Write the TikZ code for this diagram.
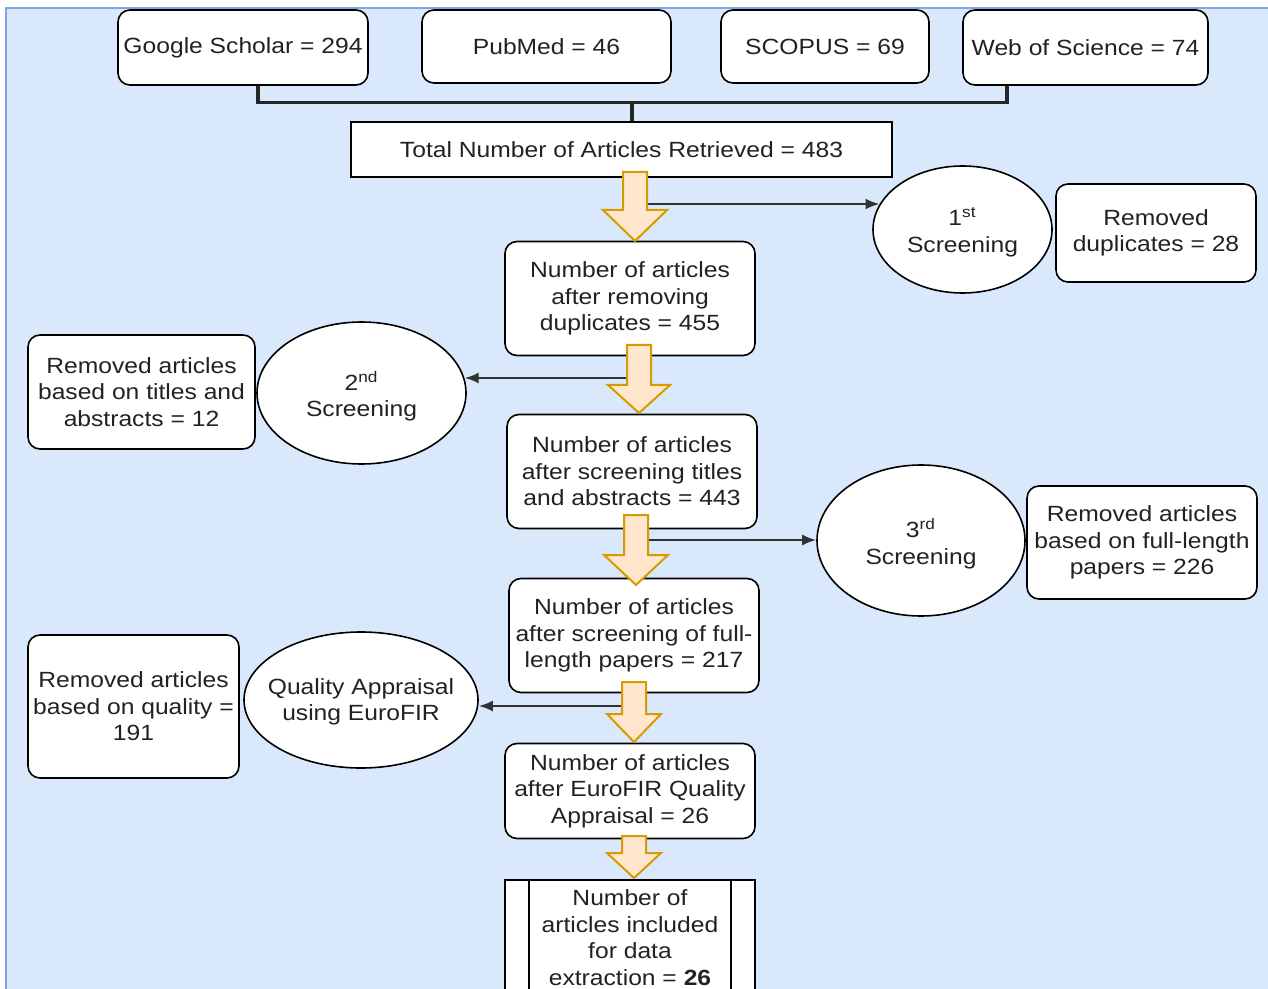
\documentclass[tikz,border=0pt]{standalone}
\usepackage{fontspec}
\setmainfont[FakeStretch=1.12]{Liberation Sans}
\usetikzlibrary{shapes.geometric,arrows.meta}

\definecolor{bgblue}{HTML}{DAE8FC}
\definecolor{bgline}{HTML}{7EA6E0}
\definecolor{arrfill}{HTML}{FFE6CC}
\definecolor{arrline}{HTML}{D79B00}
\definecolor{txt}{HTML}{222222}

% block arrow: start, shaft length, head length, head half width
\newcommand{\blockdown}[4]{\draw[blockarrow] (#1) ++(-12,0) -- ++(24,0) -- ++(0,#2) -- ++(#4-12,0) -- ++(-#4,#3) -- ++(-#4,-#3) -- ++(#4-12,0) -- cycle;}

\begin{document}
\begin{tikzpicture}[x=0.5pt,y=-0.5pt,
    every node/.style={font=\fontsize{11}{13.25}\selectfont, text=txt, align=center, inner sep=1pt},
    rbox/.style={draw, fill=white, rounded corners=6pt, line width=0.8pt},
    sbox/.style={draw, fill=white, line width=0.8pt},
    screen/.style={draw, fill=white, ellipse, line width=0.8pt, inner sep=0pt},
    bus/.style={line width=1.6pt, black!85},
    flow/.style={-{Latex[length=7pt,width=5.5pt]}, line width=1.1pt, black!80},
    blockarrow/.style={fill=arrfill, draw=arrline, line width=1pt, line join=miter}]
\clip (0,0) rectangle (1268,989);
\fill[bgblue] (6,8) rectangle (1290,1010);
\draw[bgline, line width=0.8pt] (6,1010) -- (6,8) -- (1290,8);

% databases
\node[rbox, minimum width=125pt, minimum height=37.5pt] (gs) at (243,47.5) {Google Scholar = 294};
\node[rbox, minimum width=124.5pt, minimum height=36.5pt] (pm) at (546.5,46.5) {PubMed = 46};
\node[rbox, minimum width=104pt, minimum height=36.5pt] (sc) at (825,46.5) {SCOPUS = 69};
\node[rbox, minimum width=122.5pt, minimum height=37.5pt] (wos) at (1085.5,47.5) {Web of Science = 74};

\node[sbox, minimum width=270.5pt, minimum height=27.5pt] (total) at (621.5,149.5) {Total Number of Articles Retrieved = 483};

\coordinate (busmid) at (632,102);
\draw[bus] ([xshift=7.5pt]gs.south) -- ++(0,17) -| ([xshift=-39.25pt]wos.south);
\draw[bus] (busmid) -- (busmid |- total.north);

% main column
\node[rbox, minimum width=125pt, minimum height=57pt] (n1) at (630,298.5) {Number of articles\\after removing\\duplicates = 455};
\node[rbox, minimum width=125pt, minimum height=57pt] (n2) at (632,471.5) {Number of articles\\after screening titles\\and abstracts = 443};
\node[rbox, minimum width=125pt, minimum height=57pt] (n3) at (634,635.5) {Number of articles\\after screening of full-\\length papers = 217};
\node[rbox, minimum width=125pt, minimum height=47.5pt] (n4) at (630,791) {Number of articles\\after EuroFIR Quality\\Appraisal = 26};
\node[sbox, minimum width=125pt, minimum height=57.5pt] (fin) at (630,937.5) {Number of\\articles included\\for data\\extraction = \textbf{26}};
\draw[line width=0.8pt] ([xshift=12.5pt]fin.north west) -- ([xshift=12.5pt]fin.south west);
\draw[line width=0.8pt] ([xshift=-12.5pt]fin.north east) -- ([xshift=-12.5pt]fin.south east);

% screenings
\node[screen, minimum width=89.5pt, minimum height=63.5pt, label={[name=s1t, yshift=-1.5pt]center:1\textsuperscript{st}\\Screening}] (s1) at (962.5,229.5) {};
\node[rbox, minimum width=100pt, minimum height=49pt] (r1) at (1156,233) {Removed\\duplicates = 28};

\node[screen, minimum width=104.5pt, minimum height=71pt, label={[name=s2t, yshift=-1.5pt]center:2\textsuperscript{nd}\\Screening}] (s2) at (361.5,393) {};
\node[rbox, minimum width=113.5pt, minimum height=57pt] (r2) at (141.5,392) {Removed articles\\based on titles and\\abstracts = 12};

\node[screen, minimum width=104pt, minimum height=75.5pt, label={[name=s3t, yshift=-1.5pt]center:3\textsuperscript{rd}\\Screening}] (s3) at (921,540.5) {};
\node[rbox, minimum width=115pt, minimum height=56.5pt] (r3) at (1142,542.5) {Removed articles\\based on full-length\\papers = 226};

\node[screen, minimum width=117pt, minimum height=68pt, label={[name=s4t, yshift=-1pt]center:Quality Appraisal\\using EuroFIR}] (s4) at (361,700) {};
\node[rbox, minimum width=105.5pt, minimum height=71.5pt] (r4) at (133.5,706.5) {Removed articles\\based on quality =\\191};

% side arrows
\coordinate (t1) at (647,204);
\coordinate (t2) at (628,378);
\coordinate (t3) at (648,540);
\coordinate (t4) at (622,706);
\draw[flow] (t1) -- (t1 -| s1.163);
\draw[flow] (t2) -- (t2 -| s2.8);
\draw[flow] (t3) -- (t3 -| s3.west);
\draw[flow] (t4) -- (t4 -| s4.east);

% block arrows
\coordinate (a1) at (635,172);
\coordinate (a2) at (639,345);
\coordinate (a3) at (636,515);
\coordinate (a4) at (634,682);
\coordinate (a5) at (634,836);
\blockdown{a1}{38}{31}{32}
\blockdown{a2}{40}{28}{31}
\blockdown{a3}{40}{30}{32}
\blockdown{a4}{32}{28}{27}
\blockdown{a5}{17}{25}{27}
\end{tikzpicture}
\end{document}
